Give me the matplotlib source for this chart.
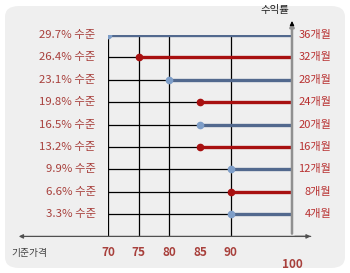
import matplotlib.pyplot as plt
from matplotlib.patches import FancyBboxPatch

plt.rcParams['font.family'] = ['Noto Sans CJK KR', 'DejaVu Sans']

# data (top row first)
months = ['36개월', '32개월', '28개월', '24개월', '20개월', '16개월', '12개월', '8개월', '4개월']
levels = ['29.7% 수준', '26.4% 수준', '23.1% 수준', '19.8% 수준', '16.5% 수준',
          '13.2% 수준', '9.9% 수준', '6.6% 수준', '3.3% 수준']
start = [70, 75, 80, 85, 85, 85, 90, 90, 90]
xticks = [70, 75, 80, 85, 90]

blue = '#52698e'
blue_dot = '#7e9ec8'
red = '#a81010'
txt_red = '#a8403c'

fig = plt.figure(figsize=(3.5, 2.73), dpi=100)
fig.patch.set_facecolor('white')

bg = FancyBboxPatch((5 / 350, 5 / 273), 340 / 350, 262 / 273,
                    boxstyle='round,pad=0,rounding_size=0.04',
                    transform=fig.transFigure, facecolor='#efefef',
                    edgecolor='none', zorder=-5)
fig.patches.append(bg)

ax = fig.add_axes([108 / 350, 1 - 236.4 / 273, 184 / 350, (236.4 - 35) / 273])
ax.set_xlim(70, 100)
ax.set_ylim(0, 9)
ax.axis('off')

n = len(months)
for i in range(n):
    y = n - i
    ax.plot([70, 100], [y, y], color='black', lw=0.9, zorder=2)
    c = blue if i % 2 == 0 else red
    dc = blue_dot if i % 2 == 0 else red
    ax.plot([start[i], 100], [y, y], color=c, lw=2.4, zorder=3,
            solid_capstyle='butt')
    ax.plot(start[i], y, 'o', color=dc, ms=4.5, zorder=4)
    ax.text(68.0, y, levels[i], ha='right', va='center', fontsize=8.2,
            color=txt_red)
    ax.text(106.4, y, months[i], ha='right', va='center', fontsize=8,
            color='#b83030')

for v in [70, 75, 80, 90]:
    ax.plot([v, v], [0, 9], color='black', lw=0.9, zorder=2)

# vertical axis at 100
ax.annotate('', xy=(100, 9.7), xytext=(100, 0),
            arrowprops=dict(arrowstyle='-|>', color='#909090', lw=1.8,
                            mutation_scale=6),
            annotation_clip=False, zorder=5)
ax.annotate('', xy=(100, 9.75), xytext=(100, 9.3),
            arrowprops=dict(arrowstyle='-|>', color='black', lw=0.8,
                            mutation_scale=6),
            annotation_clip=False, zorder=6)
ax.text(97.2, 10.1, '수익률', ha='center', va='center', fontsize=7.5,
        color='#222222')

# horizontal axis with arrows both ends
ax.annotate('', xy=(55.0, 0), xytext=(103.5, 0),
            arrowprops=dict(arrowstyle='-|>', color='#505050', lw=0.9,
                            mutation_scale=6),
            annotation_clip=False, zorder=2)
ax.annotate('', xy=(103.5, 0), xytext=(100, 0),
            arrowprops=dict(arrowstyle='-|>', color='#505050', lw=0.9,
                            mutation_scale=6),
            annotation_clip=False, zorder=2)
ax.text(54.3, -0.74, '기준가격', ha='left', va='center', fontsize=7,
        color='#404040')

for v in xticks:
    ax.text(v, -0.74, str(v), ha='center', va='center', fontsize=8.5,
            color=txt_red, fontweight='bold')
ax.text(100, -1.25, '100', ha='center', va='center', fontsize=8.5,
        color=txt_red, fontweight='bold')

fig.savefig('out.png', dpi=100, facecolor='white')
